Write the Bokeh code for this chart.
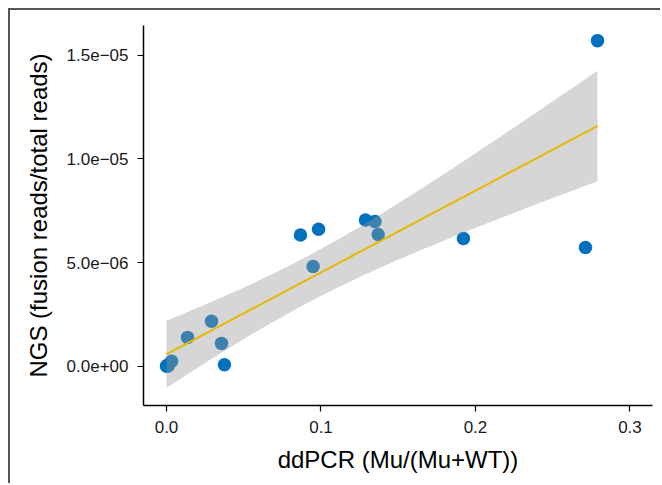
import numpy as np
from bokeh.plotting import figure
from bokeh.models import ColumnDataSource, FixedTicker, Range1d
from bokeh.embed import file_html
from bokeh.resources import INLINE

# data
ddpcr = [0.279, 0.2712, 0.1922, 0.1288, 0.1349, 0.1370, 0.0984, 0.0867,
         0.0949, 0.0291, 0.0136, 0.0356, 0.0375, 0.0003, 0.0033, 0.0, 0.001]
ngs = [1.570e-5, 5.72e-6, 6.16e-6, 7.05e-6, 6.98e-6, 6.35e-6, 6.60e-6, 6.33e-6,
       4.81e-6, 2.17e-6, 1.39e-6, 1.10e-6, 0.07e-6, 0.03e-6, 0.24e-6, 0.0, 0.01e-6]

x_ticks = [0.0, 0.1, 0.2, 0.3]
x_tick_labels = ["0.0", "0.1", "0.2", "0.3"]
y_ticks = [0.0, 5e-6, 1e-5, 1.5e-5]
y_tick_labels = ["0.0e+00", "5.0e\u221206", "1.0e\u221205", "1.5e\u221205"]

T_95 = 2.131  # t quantile, df = n - 2 = 15

# linear fit with 95% confidence band (as geom_smooth(method="lm"))
x = np.array(ddpcr)
y = np.array(ngs)
n = len(x)
slope, intercept = np.polyfit(x, y, 1)
resid = y - (slope * x + intercept)
s = np.sqrt(np.sum(resid ** 2) / (n - 2))
sxx = np.sum((x - x.mean()) ** 2)
xg = np.linspace(x.min(), x.max(), 80)
yg = slope * xg + intercept
se = s * np.sqrt(1.0 / n + (xg - x.mean()) ** 2 / sxx)
lo = yg - T_95 * se
hi = yg + T_95 * se

p = figure(width=652, height=475, output_backend="svg", toolbar_location=None,
           x_range=Range1d(-0.0149, 0.3146), y_range=Range1d(-1.895e-6, 1.643e-5),
           min_border_left=133, min_border_right=10, min_border_top=15,
           min_border_bottom=80)
p.styles = {"margin-left": "8px", "margin-top": "8px",
            "border-left": "2px solid #555555", "border-top": "2px solid #555555"}
p.outline_line_color = None
p.xgrid.visible = False
p.ygrid.visible = False

pts = ColumnDataSource(dict(x=ddpcr, y=ngs))
p.scatter("x", "y", source=pts, size=13.5, fill_color="#0072BD",
          line_color=None)

band = ColumnDataSource(dict(x=xg, lo=lo, hi=hi, y=yg))
p.varea(x="x", y1="lo", y2="hi", source=band, fill_color="#999999",
        fill_alpha=0.4)
p.line("x", "y", source=band, line_color="#E7B800", line_width=2)

for ax in (p.xaxis[0], p.yaxis[0]):
    ax.axis_line_color = "black"
    ax.axis_line_width = 1.5
    ax.major_tick_line_color = "black"
    ax.major_tick_line_width = 1.2
    ax.major_tick_out = 6
    ax.major_tick_in = 0
    ax.minor_tick_line_color = None
    ax.major_label_text_font = "Liberation Sans"
    ax.major_label_text_font_size = "17px"
    ax.major_label_text_color = "#1a1a1a"
    ax.axis_label_text_font = "Liberation Sans"
    ax.axis_label_text_font_size = "24px"
    ax.axis_label_text_font_style = "normal"
    ax.axis_label_text_color = "black"

p.xaxis.ticker = FixedTicker(ticks=x_ticks)
p.xaxis.major_label_overrides = dict(zip(x_ticks, x_tick_labels))
p.yaxis.ticker = FixedTicker(ticks=y_ticks)
p.yaxis.major_label_overrides = dict(zip(y_ticks, y_tick_labels))
p.xaxis.axis_label = "ddPCR (Mu/(Mu+WT))"
p.yaxis.axis_label = "NGS (fusion reads/total reads)"
p.xaxis.major_label_standoff = 9
p.yaxis.major_label_standoff = 9
p.xaxis.axis_label_standoff = 10
p.yaxis.axis_label_standoff = 12

open("out.html", "w").write(file_html(p, INLINE))
